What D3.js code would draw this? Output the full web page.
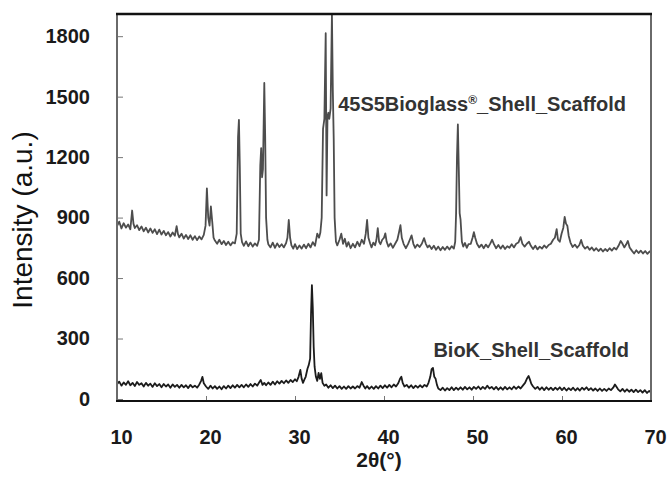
<!DOCTYPE html>
<html>
<head>
<meta charset="utf-8">
<script src="https://cdn.jsdelivr.net/npm/d3@7"></script>
<style>
  body { margin: 0; background: #fff; }
  text { font-family: "Liberation Sans", Arial, sans-serif; }
</style>
</head>
<body>
<div id="chart-container"></div>
<script>
// XRD patterns: [2theta, intensity]
const bioglassScan = [
  [10.0, 858], [10.25, 880], [10.5, 846], [10.75, 872], [11.0, 850], [11.25, 866], [11.5, 842],
  [11.7, 935], [11.85, 870], [12.0, 848], [12.25, 862], [12.5, 838], [12.75, 856], [13.0, 832],
  [13.25, 850], [13.5, 826], [13.75, 846], [14.0, 824], [14.25, 842], [14.5, 818], [14.75, 840],
  [15.0, 816], [15.25, 834], [15.5, 812], [15.75, 828], [16.0, 806], [16.25, 826], [16.5, 810],
  [16.7, 858], [16.85, 818], [17.0, 802], [17.25, 820], [17.5, 796], [17.75, 814], [18.0, 794],
  [18.25, 812], [18.5, 790], [18.75, 808], [19.0, 788], [19.25, 806], [19.5, 792], [19.75, 814],
  [19.95, 860], [20.1, 1045], [20.25, 900], [20.4, 860], [20.55, 955], [20.7, 880], [20.85, 800],
  [21.0, 786], [21.25, 770], [21.5, 790], [21.75, 768], [22.0, 784], [22.25, 764], [22.5, 780],
  [22.75, 762], [23.0, 778], [23.25, 772], [23.45, 820], [23.6, 1300], [23.7, 1385], [23.8, 1150],
  [23.9, 820], [24.05, 778], [24.25, 760], [24.5, 782], [24.75, 758], [25.0, 776], [25.25, 756],
  [25.5, 772], [25.75, 760], [25.95, 790], [26.1, 1160], [26.2, 1245], [26.3, 1100], [26.4, 1140],
  [26.55, 1568], [26.65, 1300], [26.75, 900], [26.9, 790], [27.0, 768], [27.25, 752], [27.5, 776],
  [27.75, 750], [28.0, 772], [28.25, 754], [28.5, 768], [28.75, 752], [29.0, 774], [29.15, 800],
  [29.3, 888], [29.45, 800], [29.6, 762], [29.8, 746], [30.0, 768], [30.25, 744], [30.5, 762],
  [30.75, 746], [31.0, 766], [31.25, 748], [31.5, 770], [31.75, 752], [32.0, 778], [32.25, 760],
  [32.5, 820], [32.7, 800], [32.85, 826], [33.0, 900], [33.15, 1340], [33.3, 1390], [33.45, 1815],
  [33.55, 1010], [33.65, 1400], [33.75, 1420], [33.85, 1390], [34.0, 1440], [34.15, 1910],
  [34.25, 1530], [34.35, 1290], [34.45, 900], [34.6, 780], [34.75, 762], [35.0, 790], [35.2, 820],
  [35.4, 770], [35.6, 795], [35.8, 756], [36.0, 778], [36.25, 748], [36.5, 770], [36.75, 752],
  [37.0, 780], [37.25, 758], [37.5, 790], [37.75, 770], [37.95, 820], [38.1, 888], [38.25, 800],
  [38.45, 770], [38.6, 752], [38.8, 776], [39.0, 762], [39.15, 790], [39.3, 848], [39.45, 780],
  [39.6, 768], [39.8, 790], [40.0, 800], [40.15, 822], [40.3, 780], [40.5, 756], [40.75, 772],
  [41.0, 750], [41.25, 770], [41.5, 790], [41.7, 830], [41.85, 862], [42.0, 800], [42.2, 770],
  [42.45, 748], [42.7, 768], [42.9, 790], [43.1, 812], [43.3, 770], [43.5, 750], [43.75, 766],
  [44.0, 754], [44.25, 770], [44.5, 798], [44.7, 770], [44.9, 752], [45.1, 762], [45.35, 744],
  [45.6, 760], [45.85, 740], [46.1, 756], [46.35, 738], [46.6, 754], [46.85, 740], [47.1, 756],
  [47.35, 742], [47.6, 758], [47.85, 746], [48.0, 780], [48.1, 920], [48.2, 1200], [48.3, 1362],
  [48.4, 1150], [48.5, 922], [48.6, 890], [48.75, 780], [48.9, 756], [49.1, 774], [49.3, 750],
  [49.5, 768], [49.75, 770], [49.95, 800], [50.1, 828], [50.25, 800], [50.45, 770], [50.7, 752],
  [50.95, 766], [51.2, 748], [51.45, 766], [51.7, 752], [51.95, 772], [52.15, 790], [52.35, 768],
  [52.6, 748], [52.85, 764], [53.1, 746], [53.35, 762], [53.6, 744], [53.85, 758], [54.1, 750],
  [54.35, 768], [54.6, 752], [54.85, 770], [55.1, 776], [55.35, 803], [55.55, 770], [55.8, 756],
  [56.05, 770], [56.3, 780], [56.5, 760], [56.75, 744], [57.0, 760], [57.25, 742], [57.5, 756],
  [57.75, 746], [58.0, 762], [58.25, 750], [58.5, 764], [58.75, 770], [59.0, 790], [59.2, 800],
  [59.4, 843], [59.55, 790], [59.75, 780], [59.95, 820], [60.15, 850], [60.3, 903], [60.45, 870],
  [60.6, 860], [60.75, 810], [60.95, 776], [61.2, 754], [61.45, 766], [61.7, 750], [61.95, 764],
  [62.15, 789], [62.35, 760], [62.6, 746], [62.85, 756], [63.1, 740], [63.35, 752], [63.6, 736],
  [63.85, 748], [64.1, 734], [64.35, 746], [64.6, 732], [64.85, 744], [65.1, 734], [65.35, 748],
  [65.6, 736], [65.85, 750], [66.1, 742], [66.35, 760], [66.6, 784], [66.8, 770], [67.0, 752],
  [67.2, 766], [67.4, 784], [67.6, 752], [67.85, 736], [68.1, 722], [68.35, 738], [68.6, 724],
  [68.85, 736], [69.1, 722], [69.35, 734], [69.6, 720], [69.85, 732], [70.0, 726]
];

const biokScan = [
  [10.0, 74], [10.25, 86], [10.5, 66], [10.75, 82], [11.0, 70], [11.25, 88], [11.5, 68], [11.75, 80],
  [12.0, 64], [12.25, 84], [12.5, 70], [12.75, 78], [13.0, 62], [13.25, 80], [13.5, 66], [13.75, 76],
  [14.0, 60], [14.25, 78], [14.5, 64], [14.75, 74], [15.0, 58], [15.25, 74], [15.5, 62], [15.75, 72],
  [16.0, 56], [16.25, 72], [16.5, 60], [16.75, 70], [17.0, 56], [17.25, 70], [17.5, 58], [17.75, 68],
  [18.0, 54], [18.25, 70], [18.5, 58], [18.75, 66], [19.0, 56], [19.25, 72], [19.45, 90], [19.6, 110],
  [19.75, 78], [20.0, 62], [20.25, 50], [20.5, 66], [20.75, 52], [21.0, 64], [21.25, 50], [21.5, 62],
  [21.75, 48], [22.0, 64], [22.25, 52], [22.5, 66], [22.75, 54], [23.0, 68], [23.25, 56], [23.5, 70],
  [23.75, 58], [24.0, 70], [24.25, 58], [24.5, 72], [24.75, 60], [25.0, 74], [25.25, 62], [25.5, 76],
  [25.75, 66], [26.0, 84], [26.15, 94], [26.35, 70], [26.55, 80], [26.75, 68], [27.0, 82], [27.25, 70],
  [27.5, 86], [27.75, 72], [28.0, 88], [28.25, 76], [28.5, 90], [28.75, 78], [29.0, 92], [29.25, 80],
  [29.5, 94], [29.75, 84], [30.0, 98], [30.2, 88], [30.4, 110], [30.6, 144], [30.75, 100], [30.9, 80],
  [31.05, 96], [31.2, 110], [31.4, 150], [31.55, 169], [31.7, 200], [31.8, 420], [31.9, 565],
  [32.0, 450], [32.1, 258], [32.2, 160], [32.35, 110], [32.5, 90], [32.65, 129], [32.8, 100],
  [32.95, 128], [33.1, 80], [33.3, 66], [33.5, 72], [33.75, 56], [34.0, 68], [34.25, 54], [34.5, 66],
  [34.75, 52], [35.0, 64], [35.25, 50], [35.5, 62], [35.75, 50], [36.0, 64], [36.25, 52], [36.5, 62],
  [36.75, 52], [37.0, 64], [37.25, 56], [37.5, 84], [37.7, 66], [37.9, 52], [38.1, 64], [38.35, 50],
  [38.6, 62], [38.85, 50], [39.1, 64], [39.35, 52], [39.6, 66], [39.85, 54], [40.1, 68], [40.35, 56],
  [40.6, 70], [40.85, 58], [41.1, 72], [41.35, 62], [41.6, 78], [41.8, 100], [41.95, 110], [42.1, 80],
  [42.3, 62], [42.55, 70], [42.8, 56], [43.05, 68], [43.3, 54], [43.55, 66], [43.8, 56], [44.05, 68],
  [44.3, 58], [44.55, 70], [44.8, 62], [45.0, 80], [45.2, 110], [45.35, 148], [45.5, 154], [45.65, 110],
  [45.8, 100], [45.95, 70], [46.1, 52], [46.35, 44], [46.6, 56], [46.85, 42], [47.1, 54], [47.35, 44],
  [47.6, 58], [47.85, 44], [48.1, 56], [48.35, 46], [48.6, 58], [48.85, 46], [49.1, 60], [49.35, 48],
  [49.6, 58], [49.85, 46], [50.1, 60], [50.35, 50], [50.6, 62], [50.85, 48], [51.1, 60], [51.35, 50],
  [51.6, 66], [51.85, 52], [52.1, 60], [52.35, 48], [52.6, 60], [52.85, 46], [53.1, 58], [53.35, 46],
  [53.6, 60], [53.85, 48], [54.1, 58], [54.35, 48], [54.6, 62], [54.85, 50], [55.1, 62], [55.35, 52],
  [55.6, 66], [55.85, 80], [56.05, 100], [56.25, 114], [56.4, 96], [56.55, 76], [56.75, 62], [57.0, 50],
  [57.25, 60], [57.5, 46], [57.75, 58], [58.0, 44], [58.25, 58], [58.5, 46], [58.75, 56], [59.0, 44],
  [59.25, 56], [59.5, 46], [59.75, 58], [60.0, 44], [60.25, 56], [60.5, 42], [60.75, 54], [61.0, 44],
  [61.25, 56], [61.5, 42], [61.75, 54], [62.0, 42], [62.25, 56], [62.5, 46], [62.75, 58], [63.0, 44],
  [63.25, 54], [63.5, 42], [63.75, 52], [64.0, 40], [64.25, 52], [64.5, 40], [64.75, 50], [65.0, 40],
  [65.25, 52], [65.5, 44], [65.75, 56], [65.95, 72], [66.1, 62], [66.3, 48], [66.55, 38], [66.8, 50],
  [67.05, 36], [67.3, 48], [67.55, 36], [67.8, 46], [68.05, 34], [68.3, 46], [68.55, 34], [68.8, 44],
  [69.05, 32], [69.3, 44], [69.55, 30], [69.8, 40], [70.0, 32]
];

const xTicks = [10, 20, 30, 40, 50, 60, 70];
const yTicks = [0, 300, 600, 900, 1200, 1500, 1800];

const margin = {top: 14, right: 18, bottom: 76, left: 117};
const width = 669 - margin.left - margin.right;
const height = 477 - margin.top - margin.bottom;

const svg = d3.select('#chart-container')
    .append('svg')
    .attr('width', width + margin.left + margin.right)
    .attr('height', height + margin.top + margin.bottom)
    .append('g')
    .attr('transform', `translate(${margin.left}, ${margin.top})`);

const x = d3.scaleLinear().domain([10, 70]).range([0, width]);
const y = d3.scaleLinear().domain([-10, 1910]).range([height, 0]);

svg.append('clipPath').attr('id', 'plot-clip')
    .append('rect').attr('width', width).attr('height', height);

const line = d3.line()
    .x((d) => x(d[0]))
    .y((d) => y(d[1]));

// scans
svg.append('path')
    .datum(bioglassScan)
    .attr('clip-path', 'url(#plot-clip)')
    .attr('d', line)
    .style('fill', 'none')
    .style('stroke', '#4d4d4d')
    .style('stroke-width', 1.8)
    .style('stroke-linejoin', 'round');

svg.append('path')
    .datum(biokScan)
    .attr('clip-path', 'url(#plot-clip)')
    .attr('d', line)
    .style('fill', 'none')
    .style('stroke', '#1c1c1c')
    .style('stroke-width', 1.8)
    .style('stroke-linejoin', 'round');

// axes
const yAxis = svg.append('g')
    .call(d3.axisLeft(y).tickValues(yTicks).tickFormat(d3.format('d'))
        .tickSize(-6).tickPadding(27));
yAxis.select('.domain').remove();
yAxis.selectAll('line').attr('stroke', '#777');
yAxis.selectAll('text')
    .attr('font-size', '20px')
    .attr('font-weight', 'bold')
    .attr('fill', '#1a1a1a');

const xAxis = svg.append('g')
    .attr('transform', `translate(0, ${height})`)
    .call(d3.axisBottom(x).tickValues(xTicks).tickSize(-5).tickPadding(29));
xAxis.select('.domain').remove();
xAxis.selectAll('line').attr('stroke', '#777');
xAxis.selectAll('text')
    .attr('font-size', '20px')
    .attr('font-weight', 'bold')
    .attr('fill', '#1a1a1a')
    .attr('dx', 4);

// frame
svg.append('line').attr('x1', 0).attr('x2', 0).attr('y1', 0).attr('y2', height)
    .attr('stroke', '#6a6a6a').attr('stroke-width', 2);
svg.append('line').attr('x1', width).attr('x2', width).attr('y1', 0).attr('y2', height)
    .attr('stroke', '#6a6a6a').attr('stroke-width', 2);
svg.append('line').attr('x1', -1).attr('x2', width + 1).attr('y1', 0).attr('y2', 0)
    .attr('stroke', '#111').attr('stroke-width', 2.5);
svg.append('line').attr('x1', -1).attr('x2', width + 1).attr('y1', height).attr('y2', height)
    .attr('stroke', '#111').attr('stroke-width', 2);

// series labels
const topLabel = svg.append('text')
    .attr('x', 509).attr('y', 97)
    .attr('text-anchor', 'end')
    .attr('font-size', '20px')
    .attr('font-weight', 'bold')
    .attr('fill', '#333');
topLabel.append('tspan').text('45S5Bioglass');
topLabel.append('tspan').text('®').attr('font-size', '12px').attr('baseline-shift', '7px');
topLabel.append('tspan').text('_Shell_Scaffold');

svg.append('text')
    .attr('x', 512).attr('y', 343)
    .attr('text-anchor', 'end')
    .attr('font-size', '20px')
    .attr('font-weight', 'bold')
    .attr('fill', '#333')
    .text('BioK_Shell_Scaffold');

// axis titles
svg.append('text')
    .attr('transform', `translate(${-85}, ${206}) rotate(-90)`)
    .attr('text-anchor', 'middle')
    .attr('font-size', '28px')
    .attr('fill', '#111')
    .text('Intensity (a.u.)');

svg.append('text')
    .attr('x', 262).attr('y', 453)
    .attr('text-anchor', 'middle')
    .attr('font-size', '21px')
    .attr('font-weight', 'bold')
    .attr('fill', '#1a1a1a')
    .text('2θ(°)');
</script>
</body>
</html>
